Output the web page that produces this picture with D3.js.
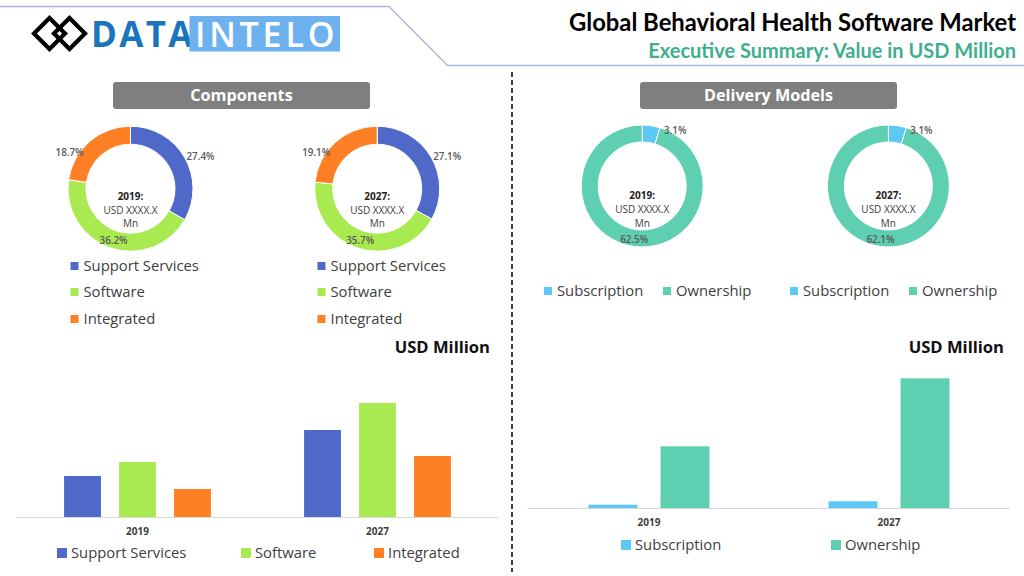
<!DOCTYPE html>
<html>
<head>
<meta charset="utf-8">
<script src="https://d3js.org/d3.v7.min.js"></script>
<style>
  html, body { margin: 0; padding: 0; background: #fff; }
  svg { display: block; }
  text { font-family: "Open Sans", sans-serif; }
  .head { font-family: Lato, sans-serif; font-weight: 700; }
</style>
</head>
<body>
<svg width="1024" height="576"></svg>
<script>
// share labels, as printed on the doughnuts
var years = ["2019", "2027"];
var componentNames = ["Support Services", "Software", "Integrated"];
var componentShare2019 = [27.4, 36.2, 18.7];
var componentShare2027 = [27.1, 35.7, 19.1];
var deliveryNames = ["Subscription", "Ownership"];
var deliveryShare2019 = [3.1, 62.5];
var deliveryShare2027 = [3.1, 62.1];

// bar heights, no axis so relative units
var supportBars = [41, 87];
var softwareBars = [55, 114];
var integratedBars = [28, 61];
var subscriptionBars = [3.3, 6.7];
var ownershipBars = [61.7, 129.7];

var componentColors = ["#5068c8", "#a8ea50", "#ff7f24"];
var deliveryColors = ["#5cc8f5", "#5ecfb0"];
var textColor = "#404040";

var svg = d3.select("svg");

// header
svg.append("polyline")
    .attr("points", "0,6.5 389,6.5 447.5,65.5 1024,65.5")
    .attr("fill", "none")
    .attr("stroke", "#a9b5dc")
    .attr("stroke-width", 1.3);

[49.5, 69.5].forEach(function (cx) {
    svg.append("path")
        .attr("d", "M" + (cx - 15.5) + ",33.5L" + cx + ",18L" + (cx + 15.5) + ",33.5L" + cx + ",49Z")
        .attr("fill", "none")
        .attr("stroke", "#000")
        .attr("stroke-width", 4.2);
});
svg.append("text").text("DATA")
    .attr("x", 91).attr("y", 46.5)
    .attr("fill", "#1b75bc")
    .style("font-size", "35px").style("font-weight", 700).style("letter-spacing", "2.3px");
svg.append("rect")
    .attr("x", 189.5).attr("y", 16).attr("width", 150.5).attr("height", 35.5)
    .attr("fill", "#6db1ee");
svg.append("text").text("INTELO")
    .attr("x", 195).attr("y", 46.5)
    .attr("fill", "#fff")
    .style("font-size", "34px").style("font-weight", 600).style("letter-spacing", "3.8px");

svg.append("text").attr("class", "head").text("Global Behavioral Health Software Market")
    .attr("x", 1016).attr("y", 31)
    .attr("text-anchor", "end")
    .attr("fill", "#000")
    .style("font-size", "23.8px");
svg.append("text").attr("class", "head").text("Executive Summary: Value in USD Million")
    .attr("x", 1016).attr("y", 58)
    .attr("text-anchor", "end")
    .attr("fill", "#3fae8f")
    .style("font-size", "20px");

// divider
svg.append("line")
    .attr("x1", 512).attr("x2", 512).attr("y1", 72).attr("y2", 572)
    .attr("stroke", "#000")
    .attr("stroke-width", 1.5)
    .attr("stroke-dasharray", "5,3");

function pill(x, label) {
    svg.append("rect")
        .attr("x", x).attr("y", 82).attr("width", 257).attr("height", 27).attr("rx", 3)
        .attr("fill", "#7f7f7f");
    svg.append("text").text(label)
        .attr("x", x + 128.5).attr("y", 101)
        .attr("text-anchor", "middle")
        .attr("fill", "#fff")
        .style("font-size", "16.2px").style("font-weight", 700);
}
pill(113, "Components");
pill(640, "Delivery Models");

function doughnut(cx, cy, outer, inner, year, shares, colors, offsets, textOffsets) {
    var g = svg.append("g").attr("transform", "translate(" + cx + "," + cy + ")");
    var pie = d3.pie().sort(null);
    var arc = d3.arc().innerRadius(inner).outerRadius(outer);
    g.selectAll("path")
        .data(pie(shares))
        .enter()
        .append("path")
        .attr("d", arc)
        .attr("fill", function (d, i) { return colors[i]; })
        .attr("stroke", "#fff")
        .attr("stroke-width", 1);
    g.selectAll("text.share")
        .data(shares)
        .enter()
        .append("text")
        .attr("class", "share")
        .text(function (d) { return d.toFixed(1) + "%"; })
        .attr("x", function (d, i) { return offsets[i][0]; })
        .attr("y", function (d, i) { return offsets[i][1] + 3.5; })
        .attr("text-anchor", "middle")
        .attr("fill", "#595959")
        .style("font-size", "9.8px").style("font-weight", 600);
    [year + ":", "USD XXXX.X", "Mn"].forEach(function (line, i) {
        g.append("text").text(line)
            .attr("y", textOffsets[i] + 3.5)
            .attr("text-anchor", "middle")
            .attr("fill", i == 0 ? "#222" : textColor)
            .style("font-size", "10px")
            .style("font-weight", i == 0 ? 700 : 400);
    });
}

var componentOffsets = [[70, -32], [-17, 52], [-61, -36]];
var deliveryOffsets = [[33, -56], [-8, 53]];
doughnut(130.5, 188.7, 62.5, 44.5, years[0], componentShare2019, componentColors, componentOffsets, [8, 21.6, 34.6]);
doughnut(377.2, 188.7, 62.5, 44.5, years[1], componentShare2027, componentColors, componentOffsets, [8, 21.6, 34.6]);
doughnut(642.2, 186, 61, 44, years[0], deliveryShare2019, deliveryColors, deliveryOffsets, [9.7, 23.7, 37]);
doughnut(888.4, 186, 61, 44, years[1], deliveryShare2027, deliveryColors, deliveryOffsets, [9.7, 23.7, 37]);

function legendItem(x, y, size, gap, label, color, fontSize) {
    svg.append("rect")
        .attr("x", x).attr("y", y - size / 2).attr("width", size).attr("height", size)
        .attr("fill", color);
    svg.append("text").text(label)
        .attr("x", x + size + gap).attr("y", y + fontSize * 0.36)
        .attr("fill", textColor)
        .style("font-size", fontSize + "px");
}

// legends under the doughnuts
componentNames.forEach(function (name, i) {
    var y = [266, 292, 319][i];
    legendItem(70.5, y, 8, 5, name, componentColors[i], 14.8);
    legendItem(317.5, y, 8, 5, name, componentColors[i], 14.8);
});
[544, 790].forEach(function (x) {
    legendItem(x, 291, 8, 5, deliveryNames[0], deliveryColors[0], 14.8);
    legendItem(x + 119, 291, 8, 5, deliveryNames[1], deliveryColors[1], 14.8);
});

function barChart(x0, baseline, rows, colors, paddingInner, paddingOuter) {
    var x = d3.scaleBand().domain(years).range([x0, x0 + 480]);
    var inner = d3.scaleBand()
        .domain(d3.range(rows.length))
        .range([0, x.bandwidth()])
        .paddingInner(paddingInner)
        .paddingOuter(paddingOuter);
    var y = d3.scaleLinear().domain([0, 130]).range([baseline, baseline - 130]);

    rows.forEach(function (values, s) {
        svg.append("g")
            .selectAll("rect")
            .data(values)
            .enter()
            .append("rect")
            .attr("x", function (d, i) { return x(years[i]) + inner(s); })
            .attr("width", inner.bandwidth())
            .attr("y", function (d) { return y(d); })
            .attr("height", function (d) { return baseline - y(d); })
            .attr("fill", colors[s]);
    });

    var axis = svg.append("g")
        .attr("transform", "translate(0," + baseline + ")")
        .call(d3.axisBottom(x).tickSize(0).tickPadding(11));
    axis.select(".domain")
        .attr("d", "M" + (x0 - 1.5) + ",0.5H" + (x0 + 481))
        .attr("stroke", "#d9d9d9")
        .attr("stroke-width", 1);
    axis.selectAll("text")
        .attr("fill", textColor)
        .style("font-family", '"Open Sans", sans-serif')
        .style("font-size", "10px").style("font-weight", 700);
}

barChart(17.5, 517, [supportBars, softwareBars, integratedBars], componentColors, 0.33, 0.847);
barChart(529, 508, [subscriptionBars, ownershipBars], deliveryColors, 0.32, 0.827);

[[490, "USD Million"], [1004, "USD Million"]].forEach(function (t) {
    svg.append("text").text(t[1])
        .attr("x", t[0]).attr("y", 353)
        .attr("text-anchor", "end")
        .attr("fill", "#111")
        .style("font-size", "16.6px").style("font-weight", 700);
});

// legends under the bars
[57, 241, 374].forEach(function (x, i) {
    legendItem(x, 553, 10, 4, componentNames[i], componentColors[i], 14.8);
});
[621, 831].forEach(function (x, i) {
    legendItem(x, 545, 10, 4, deliveryNames[i], deliveryColors[i], 14.8);
});
</script>
</body>
</html>
